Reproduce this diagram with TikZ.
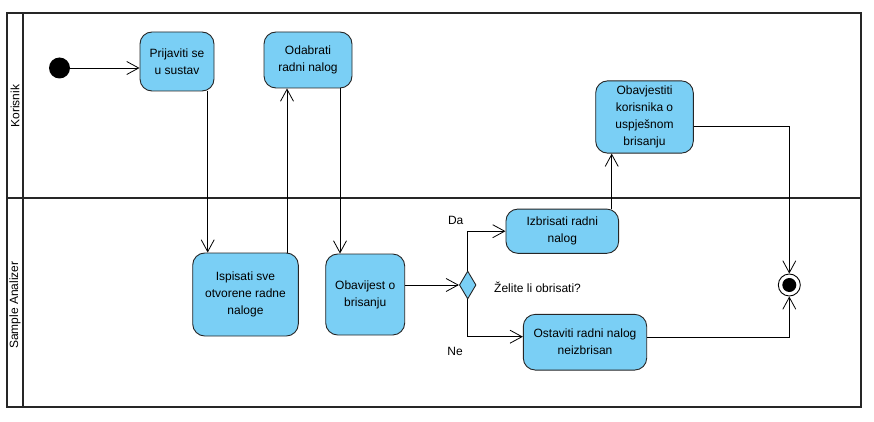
\documentclass[tikz,border=0pt]{standalone}
\usepackage{fontspec}
\setmainfont{Liberation Sans}
\usetikzlibrary{arrows.meta,shapes.geometric}
\definecolor{actblue}{RGB}{122,207,245}
\begin{document}
\begin{tikzpicture}[x=1pt,y=-1pt,
  every node/.style={font=\fontsize{12}{17}\selectfont},
  act/.style={draw=black!85,line width=0.9pt,fill=actblue,rectangle,rounded corners=12pt,align=center,inner sep=2pt},
  arr/.style={line width=0.8pt,-{Straight Barb[length=12pt,width=13pt,line width=0.8pt]}},
  lane/.style={line width=2pt,draw=black!85}]
\useasboundingbox (0,0) rectangle (874,422);
% swimlanes
\draw[lane] (7,13) rectangle (861,407);
\draw[lane] (23,13) -- (23,407);
\draw[lane] (7,197.5) -- (861,197.5);
\node[rotate=90] (l1) at (15,106) {Korisnik};
\node[rotate=90] (l2) at (15,305) {Sample Analizer};
% nodes
\node[circle,fill=black,minimum size=21pt,inner sep=0] (start) at (59.5,68) {};
\node[act,minimum width=74pt,minimum height=59pt] (prij) at (177,61.5) {Prijaviti se\\u sustav};
\node[act,minimum width=88pt,minimum height=56pt] (odab) at (308,60) {Odabrati\\radni nalog};
\node[act,minimum width=97.6pt,minimum height=72.3pt] (obj) at (644.5,117) {Obavjestiti\\korisnika o\\uspješnom\\brisanju};
\node[act,minimum width=105.6pt,minimum height=83pt] (ispis) at (245.5,294.5) {Ispisati sve\\otvorene radne\\naloge};
\node[act,minimum width=79pt,minimum height=81pt] (obav) at (365.2,294.5) {Obavijest o\\brisanju};
\node[act,minimum width=112.7pt,minimum height=44.3pt] (izb) at (562.3,231.2) {Izbrisati radni\\nalog};
\node[act,minimum width=123.4pt,minimum height=55.7pt] (ost) at (585,342.2) {Ostaviti radni nalog\\neizbrisan};
\node[diamond,draw=black!85,line width=0.9pt,fill=actblue,minimum width=16.7pt,minimum height=28pt,inner sep=0] (dec) at (467.7,285) {};
\node[circle,draw=black,line width=0.9pt,fill=white,minimum size=22pt,inner sep=0,
  path picture={\fill[black] (path picture bounding box.center) circle (7pt);}] (fin) at (789.3,285) {};
% labels
\node (da) at (455.7,220) {Da};
\node (ne) at (455,351.7) {Ne};
\node[anchor=west,inner sep=0] (q) at (494,287.7) {Želite li obrisati?};
% connectors
\draw[arr] (start) -- (prij.west |- start);
\draw[arr] ([xshift=30.7pt]prij.south) -- ([xshift=30.7pt]prij.south |- ispis.north);
\draw[arr] ([xshift=-21pt]odab.south |- ispis.north) -- ([xshift=-21pt]odab.south);
\draw[arr] ([xshift=32pt]odab.south) -- ([xshift=32pt]odab.south |- obav.north);
\draw[arr] (obav.east |- dec) -- (dec.west);
\draw[arr] (dec.north) |- (izb.west);
\draw[arr] (dec.south) |- ([yshift=5.5pt]ost.west);
\draw[arr] ([xshift=-32.8pt]obj.south |- izb.north) -- ([xshift=-32.8pt]obj.south);
\draw[arr] ([yshift=-9.3pt]obj.east) -| (fin.north);
\draw[arr] ([yshift=4.5pt]ost.east) -| (fin.south);
\end{tikzpicture}
\end{document}
